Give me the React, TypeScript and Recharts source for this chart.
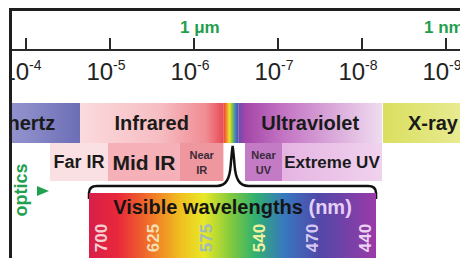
import React from "react";
import { ComposedChart, ReferenceArea, ReferenceDot, XAxis, YAxis } from "recharts";

// wavelength axis in -log10(λ / m): 4 → 10^-4 m ... 9 → 10^-9 m
const AXIS_EXPONENTS = [4, 5, 6, 7, 8, 9];
const UNIT_EXPONENTS = [6, 9];
const UNIT_LABELS = ["1 μm", "1 nm"];

const MAIN_BANDS = ["Terahertz", "Infrared", "", "Ultraviolet", "X-ray"];
const MAIN_FROM = [3.0, 4.643, 6.35, 6.53, 8.25];
const MAIN_TO = [4.643, 6.35, 6.53, 8.238, 9.44];

const SUB_BANDS = ["Far IR", "Mid IR", "Near IR", "Near UV", "Extreme UV"];
const SUB_FROM = [4.286, 4.976, 5.833, 6.607, 7.048];
const SUB_TO = [4.976, 5.833, 6.35, 7.048, 8.238];

const VISIBLE_RANGE = [4.75, 8.167];
const VISIBLE_NM = [700, 625, 575, 540, 470, 440];

const W = 460;
const H = 258;
const AXIS_H = 50;
const FRAME_X = 10;
const FONT = "'Liberation Sans', Arial, sans-serif";

// layout (y units = px below the axis line)
const ROW = {
  main: [53, 93],
  sub: [93, 131],
  brace: [96, 149],
  visible: [143, 208],
  optics: [110, 170],
  nmLabel: 188,
};

const MAIN_FILLS = ["url(#thz)", "url(#ir)", "url(#rainbow)", "url(#uv)", "url(#xray)"];
const SUB_FILLS = ["#fbe0e3", "#f5b1b7", "#ef979e", "#c27bc4", "url(#euv)"];
const SUB_SIZES = [18, 21, 11, 11, 17];
const NM_COLORS = ["#f7cfd2", "#f5dcb4", "#9fbcb8", "#eef0a0", "#d6c6f2", "#ecd2f2"];
const UNIT_DX = [-14, -22];

const pxPerDecade = 84;
const firstTickPx = 26;
const X_DOMAIN = [
  AXIS_EXPONENTS[0] - firstTickPx / pxPerDecade,
  AXIS_EXPONENTS[0] + (W - firstTickPx) / pxPerDecade,
];
const FRAME_E = AXIS_EXPONENTS[0] - (firstTickPx - FRAME_X) / pxPerDecade;

const chartData = VISIBLE_NM.map((nm) => ({ nm: String(nm) }));

function ExpTick(props: any) {
  const { x, y, payload } = props;
  const u = UNIT_EXPONENTS.indexOf(payload.value);
  return (
    <g>
      <text x={x - 4} y={y + 42} textAnchor="middle" fontSize={24} fill="#222" fontFamily={FONT}>
        <tspan>10</tspan>
        <tspan dy={-10} fontSize={14}>
          -{payload.value}
        </tspan>
      </text>
      {u >= 0 && (
        <text
          x={x + UNIT_DX[u]}
          y={y - 5}
          fontSize={17}
          fontWeight="bold"
          fill="#1f9e4e"
          fontFamily={FONT}
        >
          {UNIT_LABELS[u]}
        </text>
      )}
    </g>
  );
}

const nmShape = (i: number) => (p: any) => {
  const { cx, cy } = p;
  return (
    <text
      x={cx}
      y={cy}
      transform={`rotate(-90 ${cx} ${cy})`}
      textAnchor="middle"
      dominantBaseline="central"
      fontSize={17}
      fontWeight="bold"
      fill={NM_COLORS[i]}
      fontFamily={FONT}
    >
      {VISIBLE_NM[i]}
    </text>
  );
};

const bandShape = (name: string, fill: string, size: number) => (p: any) => {
  const { x, y, width, height } = p;
  const cx = x + width / 2;
  const cy = y + height / 2;
  const small = name.startsWith("Near");
  const words = name.split(" ");
  return (
    <g>
      <rect x={x} y={y} width={width} height={height} fill={fill} />
      {name && !small && (
        <text
          x={cx}
          y={cy}
          textAnchor="middle"
          dominantBaseline="central"
          fontSize={size}
          fontWeight="bold"
          fill="#1a1a1a"
          fontFamily={FONT}
        >
          {name}
        </text>
      )}
      {small && (
        <text textAnchor="middle" fontSize={size} fontWeight="bold" fill="#3a2a3a" fontFamily={FONT}>
          <tspan x={cx} y={cy - 7.5} dominantBaseline="central">
            {words[0]}
          </tspan>
          <tspan x={cx} y={cy + 7.5} dominantBaseline="central">
            {words[1]}
          </tspan>
        </text>
      )}
    </g>
  );
};

const braceShape = (p: any) => {
  const { x, y, width, height } = p;
  const peakE = (MAIN_FROM[2] + MAIN_TO[2]) / 2 + 0.02;
  const P = x + ((peakE - VISIBLE_RANGE[0]) / (VISIBLE_RANGE[1] - VISIBLE_RANGE[0])) * width;
  const L = x;
  const R = x + width;
  const T = y;
  const Hy = y + 40;
  const B = y + height;
  const d = [
    `M ${L} ${B}`,
    `L ${L} ${Hy + 7}`,
    `Q ${L} ${Hy} ${L + 8} ${Hy}`,
    `L ${P - 16} ${Hy}`,
    `C ${P - 6} ${Hy} ${P - 3} ${Hy - 8} ${P - 2} ${Hy - 20}`,
    `Q ${P - 1} ${T + 8} ${P} ${T}`,
    `Q ${P + 1} ${T + 8} ${P + 2} ${Hy - 20}`,
    `C ${P + 3} ${Hy - 8} ${P + 6} ${Hy} ${P + 16} ${Hy}`,
    `L ${R - 8} ${Hy}`,
    `Q ${R} ${Hy} ${R} ${Hy + 7}`,
    `L ${R} ${B}`,
  ].join(" ");
  return <path d={d} fill="none" stroke="#111" strokeWidth={2.5} />;
};

const visibleShape = (p: any) => {
  const { x, y, width, height } = p;
  return (
    <g>
      <rect x={x} y={y} width={width} height={height} fill="url(#visible)" />
      <text
        x={x + width / 2}
        y={y + 21}
        textAnchor="middle"
        fontSize={20}
        fontWeight="bold"
        fill="#151515"
        fontFamily={FONT}
      >
        Visible wavelengths <tspan fill="#e6cff7">(nm)</tspan>
      </text>
    </g>
  );
};

const opticsShape = (p: any) => {
  const { x, y, height } = p;
  const cy = y + height / 2;
  const tx = x + 11;
  return (
    <g>
      <text
        x={tx}
        y={cy}
        transform={`rotate(-90 ${tx} ${cy})`}
        textAnchor="middle"
        dominantBaseline="central"
        fontSize={18}
        fontWeight="bold"
        fill="#22a052"
        fontFamily={FONT}
      >
        optics
      </text>
      <polygon
        points={`${x + 27},${cy - 4} ${x + 39},${cy + 1} ${x + 27},${cy + 6}`}
        fill="#22a052"
      />
    </g>
  );
};

export default function App() {
  return (
    <div
      style={{
        position: "absolute",
        left: 0,
        top: 0,
        width: W,
        height: H,
        overflow: "hidden",
        background: "#fff",
      }}
    >
      <ComposedChart
        width={W}
        height={H}
        data={chartData}
        margin={{ top: 0, right: 0, bottom: 0, left: 0 }}
      >
        <defs>
          <linearGradient id="thz" x1="0" y1="0" x2="1" y2="0">
            <stop offset="0" stopColor="#a3a3da" />
            <stop offset="0.6" stopColor="#8d8dca" />
            <stop offset="1" stopColor="#6c6eb6" />
          </linearGradient>
          <linearGradient id="ir" x1="0" y1="0" x2="1" y2="0">
            <stop offset="0" stopColor="#fbdadd" />
            <stop offset="0.55" stopColor="#f6bec3" />
            <stop offset="0.88" stopColor="#f08c93" />
            <stop offset="1" stopColor="#e84a56" />
          </linearGradient>
          <linearGradient id="rainbow" x1="0" y1="0" x2="1" y2="0">
            <stop offset="0" stopColor="#e83a40" />
            <stop offset="0.2" stopColor="#f08a30" />
            <stop offset="0.4" stopColor="#f2e030" />
            <stop offset="0.6" stopColor="#7cc244" />
            <stop offset="0.8" stopColor="#3f7fc4" />
            <stop offset="1" stopColor="#5a46a8" />
          </linearGradient>
          <linearGradient id="uv" x1="0" y1="0" x2="1" y2="0">
            <stop offset="0" stopColor="#6a4cae" />
            <stop offset="0.05" stopColor="#a447a8" />
            <stop offset="0.3" stopColor="#c272c2" />
            <stop offset="1" stopColor="#f0dcf0" />
          </linearGradient>
          <linearGradient id="xray" x1="0" y1="0" x2="1" y2="0">
            <stop offset="0" stopColor="#dadf60" />
            <stop offset="1" stopColor="#ecee9e" />
          </linearGradient>
          <linearGradient id="euv" x1="0" y1="0" x2="1" y2="0">
            <stop offset="0" stopColor="#e5b4e2" />
            <stop offset="1" stopColor="#f0d2ee" />
          </linearGradient>
          <linearGradient id="visible" x1="0" y1="0" x2="1" y2="0">
            <stop offset="0" stopColor="#d81e4a" />
            <stop offset="0.1" stopColor="#e8283a" />
            <stop offset="0.2" stopColor="#f06a2a" />
            <stop offset="0.32" stopColor="#f0c020" />
            <stop offset="0.4" stopColor="#e8e828" />
            <stop offset="0.5" stopColor="#7cc840" />
            <stop offset="0.58" stopColor="#30b070" />
            <stop offset="0.68" stopColor="#3878c0" />
            <stop offset="0.8" stopColor="#5048a8" />
            <stop offset="1" stopColor="#9a3aa8" />
          </linearGradient>
        </defs>
        <XAxis
          dataKey="exp"
          type="number"
          orientation="top"
          domain={X_DOMAIN}
          allowDataOverflow
          ticks={AXIS_EXPONENTS}
          interval={0}
          height={AXIS_H}
          tickSize={12}
          tickMargin={0}
          axisLine={{ stroke: "#2a2a2a", strokeWidth: 2 }}
          tickLine={{ stroke: "#2a2a2a", strokeWidth: 2 }}
          tick={(p: any) => <ExpTick {...p} />}
        />
        <XAxis
          xAxisId="vis"
          dataKey="nm"
          type="category"
          hide
          padding={{ left: 101, right: 95 }}
        />
        <YAxis hide type="number" domain={[0, H - AXIS_H]} reversed allowDataOverflow />

        {MAIN_BANDS.map((name, i) => (
          <ReferenceArea
            key={"m" + i}
            x1={MAIN_FROM[i]}
            x2={MAIN_TO[i]}
            y1={ROW.main[0]}
            y2={ROW.main[1]}
            ifOverflow="visible"
            shape={bandShape(name, MAIN_FILLS[i], 20)}
          />
        ))}
        {SUB_BANDS.map((name, i) => (
          <ReferenceArea
            key={"s" + i}
            x1={SUB_FROM[i]}
            x2={SUB_TO[i]}
            y1={ROW.sub[0]}
            y2={ROW.sub[1]}
            ifOverflow="visible"
            shape={bandShape(name, SUB_FILLS[i], SUB_SIZES[i])}
          />
        ))}
        <ReferenceArea
          x1={VISIBLE_RANGE[0]}
          x2={VISIBLE_RANGE[1]}
          y1={ROW.brace[0]}
          y2={ROW.brace[1]}
          ifOverflow="visible"
          shape={braceShape}
        />
        <ReferenceArea
          x1={VISIBLE_RANGE[0]}
          x2={VISIBLE_RANGE[1]}
          y1={ROW.visible[0]}
          y2={ROW.visible[1]}
          ifOverflow="visible"
          shape={visibleShape}
        />
        <ReferenceArea
          x1={FRAME_E}
          x2={SUB_FROM[0]}
          y1={ROW.optics[0]}
          y2={ROW.optics[1]}
          ifOverflow="visible"
          shape={opticsShape}
        />
        {VISIBLE_NM.map((nm, i) => (
          <ReferenceDot
            key={"nm" + nm}
            xAxisId="vis"
            x={String(nm)}
            y={ROW.nmLabel}
            ifOverflow="visible"
            shape={nmShape(i)}
          />
        ))}
      </ComposedChart>
      {/* frame: white margin plus the dark top/left border */}
      <div style={{ position: "absolute", left: 0, top: 0, width: 9, height: H, background: "#fff" }} />
      <div style={{ position: "absolute", left: 9, top: 8, width: W - 9, height: 3, background: "#1e1e1e" }} />
      <div style={{ position: "absolute", left: 9, top: 8, width: 3, height: H - 8, background: "#1e1e1e" }} />
    </div>
  );
}
